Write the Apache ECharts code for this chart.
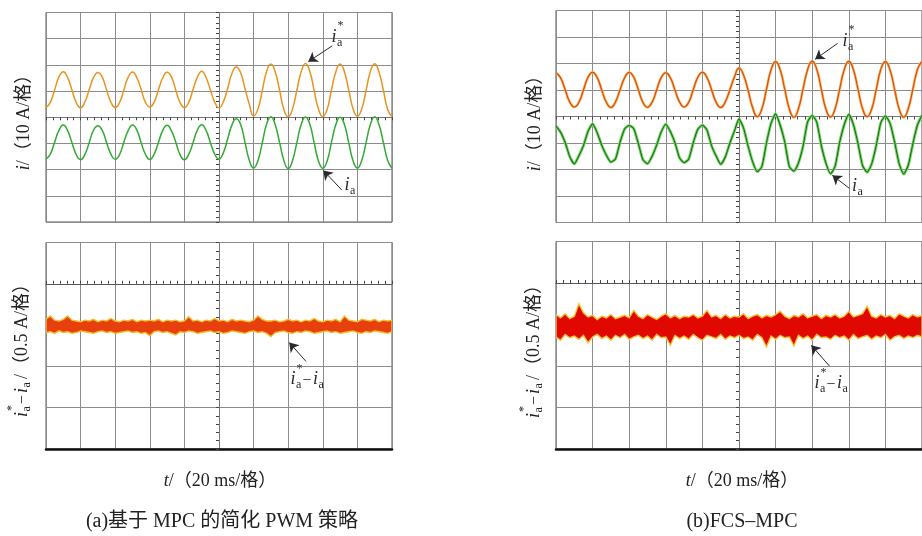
<!DOCTYPE html>
<html>
<head>
<meta charset="utf-8">
<script src="https://cdn.jsdelivr.net/npm/echarts@6/dist/echarts.min.js"></script>
<style>
html, body { margin: 0; padding: 0; background: #fff; }
#chart { width: 922px; height: 536px; }
</style>
</head>
<body>
<div id="chart"></div>
<script>
// sample times in ms, relative to the scope centre (20 ms per division)
const time = [
  -100, -97.5, -95, -92.5, -90, -87.5, -85, -82.5,
  -80, -77.5, -75, -72.5, -70, -67.5, -65, -62.5,
  -60, -57.5, -55, -52.5, -50, -47.5, -45, -42.5,
  -40, -37.5, -35, -32.5, -30, -27.5, -25, -22.5,
  -20, -17.5, -15, -12.5, -10, -7.5, -5, -2.5,
  0, 2.5, 5, 7.5, 10, 12.5, 15, 17.5,
  20, 22.5, 25, 27.5, 30, 32.5, 35, 37.5,
  40, 42.5, 45, 47.5, 50, 52.5, 55, 57.5,
  60, 62.5, 65, 67.5, 70, 72.5, 75, 77.5,
  80, 82.5, 85, 87.5, 90, 92.5, 95, 97.5,
  100
];

// (a) MPC-based simplified PWM, currents in A
const refA = [
  3.8, 5.7, 10.5, 15.4, 17.4, 15.2, 10.4, 5.6,
  3.6, 5.9, 10.6, 15.2, 17.1, 15.3, 10.5, 5.8,
  3.7, 5.6, 10.4, 15.3, 17.3, 15.1, 10.6, 5.7,
  3.9, 5.8, 10.5, 15.1, 17.2, 15.4, 10.4, 5.6,
  3.7, 5.7, 10.6, 15.3, 17.6, 15.2, 10.5, 5.8,
  3.6, 5.9, 11.0, 16.8, 19.2, 17.0, 11.0, 5.0,
  0.5, 3.1, 10.2, 17.5, 20.3, 17.3, 10.4, 3.0,
  0.2, 3.2, 10.3, 17.4, 20.5, 17.5, 10.2, 3.1,
  0.3, 3.0, 10.4, 17.3, 20.3, 17.4, 10.3, 3.2,
  0.4, 3.1, 10.2, 17.5, 20.4, 17.2, 10.4, 3.0,
  0.3
];
const measA = [
  -16.0, -14.1, -9.5, -5.0, -3.0, -5.1, -9.7, -14.3,
  -16.2, -14.2, -9.6, -4.9, -3.2, -5.0, -9.6, -14.1,
  -16.0, -14.3, -9.5, -5.1, -3.0, -4.9, -9.7, -14.2,
  -16.1, -14.1, -9.6, -5.0, -3.1, -5.2, -9.5, -14.3,
  -16.2, -14.2, -9.7, -4.9, -2.9, -5.0, -9.6, -14.1,
  -16.0, -13.6, -8.3, -2.9, -0.6, -2.8, -9.5, -16.4,
  -19.4, -16.6, -9.8, -2.7, 0.2, -2.9, -9.6, -16.5,
  -19.6, -16.5, -9.7, -2.8, 0.1, -2.7, -9.7, -16.7,
  -19.5, -16.7, -9.6, -2.9, 0.0, -2.8, -9.8, -16.6,
  -19.4, -16.5, -9.7, -2.8, 0.2, -2.9, -9.6, -16.5,
  -19.5
];
// tracking error envelope, A
const errHighA = [
  0.07, 0.11, 0.06, 0.05, 0.07, 0.11, 0.06, 0.05, 0.04, 0.06,
  0.05, 0.07, 0.04, 0.06, 0.05, 0.08, 0.05, 0.04, 0.06, 0.05,
  0.07, 0.04, 0.06, 0.05, 0.06, 0.05, 0.07, 0.04, 0.06, 0.05,
  0.06, 0.04, 0.05, 0.10, 0.05, 0.06, 0.04, 0.06, 0.05, 0.08,
  0.05, 0.06, 0.04, 0.07, 0.05, 0.06, 0.05, 0.04, 0.06, 0.11,
  0.07, 0.05, 0.05, 0.06, 0.04, 0.05, 0.07, 0.05, 0.06, 0.04,
  0.06, 0.05, 0.08, 0.05, 0.04, 0.06, 0.05, 0.07, 0.04, 0.11,
  0.06, 0.05, 0.04, 0.07, 0.06, 0.05, 0.07, 0.04, 0.06, 0.05,
  0.06
];
const errLowA = [
  -0.09, -0.08, -0.10, -0.07, -0.09, -0.08, -0.10, -0.09, -0.07, -0.08,
  -0.09, -0.10, -0.08, -0.07, -0.09, -0.08, -0.10, -0.09, -0.08, -0.07,
  -0.09, -0.08, -0.10, -0.09, -0.13, -0.08, -0.07, -0.09, -0.08, -0.10,
  -0.12, -0.08, -0.09, -0.07, -0.08, -0.10, -0.09, -0.08, -0.07, -0.09,
  -0.08, -0.10, -0.09, -0.07, -0.08, -0.09, -0.10, -0.08, -0.07, -0.09,
  -0.08, -0.10, -0.14, -0.09, -0.08, -0.07, -0.09, -0.10, -0.08, -0.09,
  -0.07, -0.08, -0.10, -0.09, -0.08, -0.07, -0.09, -0.08, -0.10, -0.09,
  -0.08, -0.07, -0.09, -0.10, -0.08, -0.09, -0.07, -0.08, -0.09, -0.10,
  -0.08
];

// (b) FCS-MPC
const refB = [
  16.5, 14.6, 10.1, 5.5, 3.6, 5.3, 10.0, 14.8,
  16.7, 14.7, 10.0, 5.4, 3.4, 5.5, 10.1, 14.6,
  16.6, 14.8, 10.1, 5.3, 3.5, 5.4, 10.0, 14.7,
  16.5, 14.6, 10.0, 5.5, 3.6, 5.3, 10.1, 14.8,
  16.7, 14.7, 10.1, 5.4, 3.4, 5.5, 10.0, 14.9,
  18.3, 15.6, 9.8, 3.2, -0.1, 2.9, 10.2, 17.6,
  20.7, 17.6, 10.3, 2.9, -0.3, 3.0, 10.4, 17.7,
  20.9, 17.8, 10.2, 2.8, -0.2, 2.9, 10.3, 17.6,
  20.8, 17.7, 10.4, 3.0, -0.1, 2.8, 10.2, 17.8,
  20.7, 17.6, 10.3, 2.9, -0.3, 3.0, 10.3, 17.7,
  20.8
];
const measB = [
  -3.6, -5.9, -9.8, -15.1, -17.9, -14.8, -11.0, -5.6,
  -2.8, -6.1, -10.9, -14.6, -17.2, -16.0, -9.7, -4.7,
  -3.4, -4.6, -10.2, -16.3, -17.8, -15.0, -10.8, -5.8,
  -2.9, -5.7, -9.9, -15.6, -17.4, -16.1, -9.9, -4.8,
  -3.3, -5.1, -11.0, -14.9, -18.0, -15.3, -10.1, -5.5,
  -0.9, -4.4, -11.3, -17.2, -20.8, -18.9, -10.0, -2.6,
  1.0, -3.3, -9.6, -18.9, -20.6, -17.5, -11.2, -2.0,
  0.4, -2.2, -11.0, -17.6, -21.6, -18.8, -9.8, -3.1,
  0.8, -3.0, -10.1, -18.5, -21.0, -17.9, -10.9, -2.3,
  0.2, -2.5, -9.5, -17.8, -21.7, -18.4, -10.3, -3.2,
  0.5
];
const errHighB = [
  0.12, 0.08, 0.13, 0.07, 0.10, 0.25, 0.14, 0.09, 0.11, 0.06,
  0.10, 0.08, 0.12, 0.07, 0.09, 0.11, 0.08, 0.17, 0.10, 0.07,
  0.12, 0.09, 0.06, 0.10, 0.13, 0.08, 0.11, 0.07, 0.10, 0.09,
  0.12, 0.08, 0.10, 0.17, 0.09, 0.11, 0.07, 0.12, 0.08, 0.10,
  0.09, 0.13, 0.07, 0.10, 0.12, 0.08, 0.11, 0.09, 0.12, 0.16,
  0.10, 0.07, 0.11, 0.09, 0.13, 0.08, 0.10, 0.12, 0.07, 0.11,
  0.09, 0.12, 0.08, 0.10, 0.16, 0.09, 0.11, 0.13, 0.22, 0.10,
  0.08, 0.12, 0.09, 0.11, 0.07, 0.13, 0.10, 0.08, 0.12, 0.09,
  0.11
];
const errLowB = [
  -0.15, -0.19, -0.12, -0.16, -0.14, -0.18, -0.13, -0.22, -0.15, -0.12,
  -0.17, -0.14, -0.19, -0.13, -0.16, -0.12, -0.18, -0.15, -0.13, -0.17,
  -0.14, -0.19, -0.12, -0.16, -0.15, -0.25, -0.13, -0.17, -0.14, -0.18,
  -0.12, -0.16, -0.19, -0.13, -0.15, -0.17, -0.12, -0.18, -0.14, -0.16,
  -0.13, -0.17, -0.15, -0.19, -0.12, -0.16, -0.27, -0.14, -0.18, -0.13,
  -0.16, -0.15, -0.26, -0.13, -0.17, -0.14, -0.19, -0.12, -0.16, -0.15,
  -0.18, -0.13, -0.16, -0.14, -0.19, -0.12, -0.17, -0.15, -0.13, -0.18,
  -0.14, -0.16, -0.12, -0.19, -0.15, -0.13, -0.17, -0.14, -0.16, -0.13,
  -0.15
];

// arrow annotations [from, to] in data units, and label anchors
const arrowsTopA = [[[65.5, 27.3], [51.6, 21.2]], [[71.0, -27.8], [60.3, -20.3]]];
const arrowsBotA = [[[50.3, -0.44], [40.6, -0.21]]];
const arrowsTopB = [[[53.9, 27.6], [41.6, 21.6]], [[60.3, -27.1], [51.0, -22.2]]];
const arrowsBotB = [[[49.4, -0.50], [39.5, -0.25]]];
const labelRefA = [65.1, 30.6], labelMeasA = [72.6, -25.9], labelErrA = [41.4, -0.66];
const labelRefB = [56.6, 28.5], labelMeasB = [61.7, -26.5], labelErrB = [41.3, -0.71];

const serif = "'Liberation Serif', 'Times New Roman', 'Noto Sans CJK SC', serif";
const gridGray = '#8c8c8c';
const ink = '#2a2a2a';

const pairs = ys => time.map((t, i) => [t, ys[i]]);

function timeAxis(gridIndex, extra) {
  return Object.assign({
    type: 'value', gridIndex: gridIndex, min: -100, max: 100, interval: 20,
    axisLabel: { show: false }, axisTick: { show: false },
    splitLine: { show: true, lineStyle: { color: gridGray, width: 1 } }
  }, extra);
}
const crossLine = { onZero: true, lineStyle: { color: '#777', width: 1 } };
const crossTick = { show: true, length: 3, lineStyle: { color: '#444' } };
const crossMinor = { show: true, splitNumber: 5, length: 3, lineStyle: { color: '#444' } };

function valueAxis(gridIndex, min, max, interval) {
  return {
    type: 'value', gridIndex: gridIndex, min: min, max: max, interval: interval,
    axisLabel: { show: false },
    axisLine: crossLine, axisTick: crossTick, minorTick: crossMinor,
    splitLine: { show: true, lineStyle: { color: gridGray, width: 1 } }
  };
}

function trace(xi, yi, ys, color, width, smooth) {
  return {
    type: 'line', xAxisIndex: xi, yAxisIndex: yi, data: pairs(ys),
    symbol: 'none', smooth: smooth, silent: true,
    lineStyle: { color: color, width: width }
  };
}

function arrowMarks(list) {
  return {
    silent: true, animation: false,
    symbol: ['none', 'arrow'], symbolSize: 9,
    label: { show: false },
    lineStyle: { color: ink, width: 1, type: 'solid' },
    data: list.map(a => [{ coord: a[0] }, { coord: a[1] }])
  };
}

function band(xi, yi, lo, hi, fill, edge) {
  return {
    type: 'custom', xAxisIndex: xi, yAxisIndex: yi, silent: true, clip: true,
    data: time.map((t, i) => [t, lo[i], hi[i]]),
    encode: { x: 0, y: [1, 2] },
    renderItem: function (params, api) {
      if (params.dataIndex !== 0) return null;
      const upper = time.map((t, i) => api.coord([t, hi[i]]));
      const lower = time.map((t, i) => api.coord([t, lo[i]])).reverse();
      return {
        type: 'polygon', shape: { points: upper.concat(lower) },
        style: { fill: fill, stroke: edge, lineWidth: 1.4 }
      };
    }
  };
}

const chart = echarts.init(document.getElementById('chart'));

const gridBase = { show: true, borderColor: '#555', borderWidth: 1, backgroundColor: '#fff' };

const option = {
  animation: false,
  backgroundColor: '#fff',
  grid: [
    Object.assign({ left: 46, top: 12.5, width: 346, height: 209.5 }, gridBase),
    Object.assign({ left: 46, top: 242.5, width: 346, height: 206.5 }, gridBase),
    Object.assign({ left: 556, top: 10.5, width: 369, height: 212 }, gridBase),
    Object.assign({ left: 556, top: 241.5, width: 369, height: 207.5 }, gridBase)
  ],
  xAxis: [
    timeAxis(0, { axisLine: crossLine, axisTick: crossTick, minorTick: crossMinor }),
    timeAxis(1, { position: 'bottom', axisLine: { onZero: false, lineStyle: { color: '#111', width: 2.5 } } }),
    timeAxis(1, { position: 'top', offset: -41.3, splitLine: { show: false },
      axisLine: { onZero: false, lineStyle: { color: '#555', width: 1 } }, axisTick: crossTick, minorTick: crossMinor }),
    timeAxis(2, { axisLine: crossLine, axisTick: crossTick, minorTick: crossMinor }),
    timeAxis(3, { position: 'bottom', axisLine: { onZero: false, lineStyle: { color: '#111', width: 2.5 } } }),
    timeAxis(3, { position: 'top', offset: -41.5, splitLine: { show: false },
      axisLine: { onZero: false, lineStyle: { color: '#555', width: 1 } }, axisTick: crossTick, minorTick: crossMinor })
  ],
  yAxis: [
    valueAxis(0, -40, 40, 10),
    valueAxis(1, -1.5, 1.0, 0.5),
    valueAxis(2, -40, 40, 10),
    valueAxis(3, -1.5, 1.0, 0.5)
  ],
  series: [
    Object.assign(trace(0, 0, refA, '#E8941F', 1.5, true), { markLine: arrowMarks(arrowsTopA) }),
    trace(0, 0, measA, '#33AA33', 1.5, true),
    Object.assign(band(1, 1, errLowA, errHighA, '#E8400C', '#F2BE2C'), { markLine: arrowMarks(arrowsBotA) }),
    trace(3, 2, refB, '#F5B45A', 2.6, true),
    Object.assign(trace(3, 2, refB, '#D9470F', 1.1, true), { markLine: arrowMarks(arrowsTopB) }),
    trace(3, 2, measB, '#7DD66A', 3, 0.2),
    trace(3, 2, measB, '#177017', 1.1, 0.2),
    Object.assign(band(4, 3, errLowB, errHighB, '#E00800', '#F3C230'), { markLine: arrowMarks(arrowsBotB) })
  ]
};

chart.setOption(option);

// labels that sit next to the arrows
const px = (xi, yi, p) => chart.convertToPixel({ xAxisIndex: xi, yAxisIndex: yi }, p);
function txt(x, y, s, size, italic) {
  return {
    type: 'text', x: x, y: y,
    style: { text: s, fontSize: size, fontFamily: serif, fontStyle: italic ? 'italic' : 'normal',
      fill: ink, verticalAlign: 'middle', align: 'left' }
  };
}
function iaLabel(p, star) {
  const kids = [txt(0, 0, 'i', 18, true), txt(5.5, 5.5, 'a', 12)];
  if (star) kids.push(txt(6, -11, '*', 12));
  return { type: 'group', x: p[0], y: p[1], children: kids, silent: true };
}
function errLabel(p) {
  return {
    type: 'group', x: p[0], y: p[1], silent: true,
    children: [
      txt(0, 0, 'i', 18, true), txt(5.5, 5.5, 'a', 12), txt(6, -11, '*', 12),
      txt(12, 1, '−', 16), txt(22.5, 0, 'i', 18, true), txt(28, 5.5, 'a', 12)
    ]
  };
}

const richBase = { fontSize: 18, fontFamily: serif, fill: '#222' };
function yNameTop(x, y) {
  return {
    type: 'text', x: x, y: y, rotation: Math.PI / 2, silent: true,
    style: Object.assign({
      text: '{it|i}/（10 A/格）', align: 'center', verticalAlign: 'middle',
      rich: { it: { fontSize: 18, fontFamily: serif, fontStyle: 'italic' } }
    }, richBase)
  };
}
function yNameBottom(x, y) {
  const c = (dx, dy, s, size, italic) => {
    const t = txt(dx, dy, s, size, italic);
    t.style.fill = '#222';
    return t;
  };
  return {
    type: 'group', x: x, y: y, rotation: Math.PI / 2, silent: true,
    children: [
      c(-70, 0, 'i', 18, true), c(-64.5, 4.5, 'a', 12), c(-64, -10, '*', 12),
      c(-57, 1, '−', 16), c(-46, 0, 'i', 18, true), c(-40.5, 4.5, 'a', 12),
      c(-32, 0, '/（0.5 A/格）', 18)
    ]
  };
}
function xName(x, y) {
  return {
    type: 'text', x: x, y: y, silent: true,
    style: Object.assign({
      text: '{it|t}/（20 ms/格）', align: 'center', verticalAlign: 'middle',
      rich: { it: { fontSize: 18, fontFamily: serif, fontStyle: 'italic' } }
    }, richBase)
  };
}
function caption(x, y, s) {
  return {
    type: 'text', x: x, y: y, silent: true,
    style: { text: s, fontSize: 20, fontFamily: serif, fill: '#222', align: 'center', verticalAlign: 'middle' }
  };
}

chart.setOption({
  graphic: [
    iaLabel(px(0, 0, labelRefA), true),
    iaLabel(px(0, 0, labelMeasA), false),
    errLabel(px(1, 1, labelErrA)),
    iaLabel(px(3, 2, labelRefB), true),
    iaLabel(px(3, 2, labelMeasB), false),
    errLabel(px(4, 3, labelErrB)),
    yNameTop(24, 118),
    yNameTop(535, 119),
    yNameBottom(22, 347),
    yNameBottom(534, 348),
    xName(220, 481),
    xName(742, 481),
    caption(222, 522, '(a)基于 MPC 的简化 PWM 策略'),
    caption(742, 522, '(b)FCS–MPC')
  ]
});
</script>
</body>
</html>
